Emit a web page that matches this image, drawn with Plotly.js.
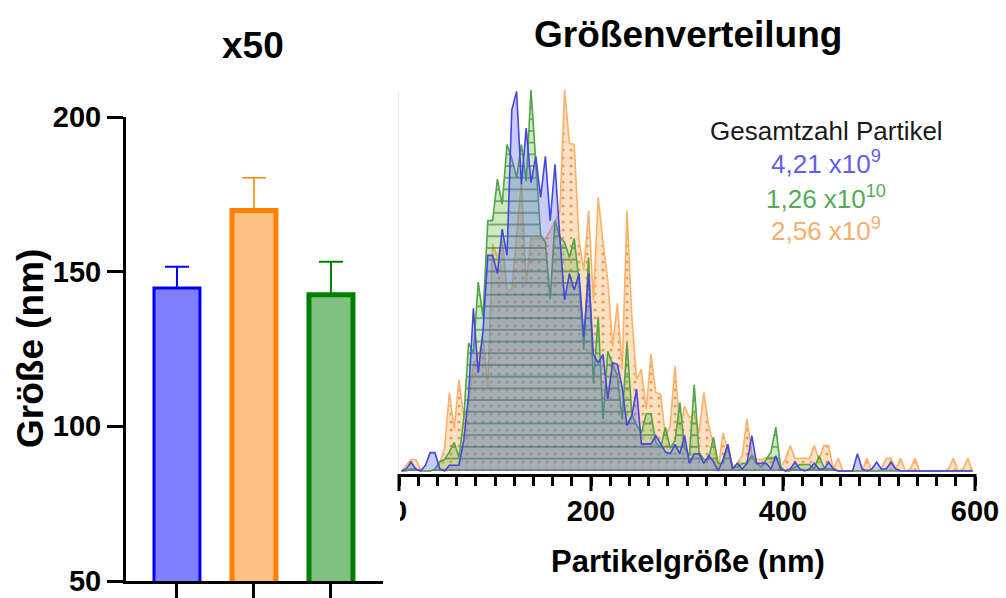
<!DOCTYPE html>
<html>
<head>
<meta charset="utf-8">
<script src="https://cdn.plot.ly/plotly-3.0.1.min.js"></script>
<style>html,body{margin:0;padding:0;background:#fff;}#chart{width:1006px;height:598px;}</style>
</head>
<body>
<div id="chart"></div>
<script>
// ---- Left panel: mean particle size (x50) ----
var barGroups = [0, 1, 2];
var barMeans = [144.7, 169.8, 142.5];
var barErrUp = [6.9, 10.6, 10.7];
var sizeTicks = [50, 100, 150, 200];

// ---- Right panel: size distribution (5 nm bins, first bin centre 2.5 nm) ----
var binStart = 2.5;
var binWidth = 5;
var distTicks = [0, 200, 400, 600];
var distBlue = [0,0.5,2.3,0.5,0,1.5,4.8,4.8,0.5,0,1.5,1.5,1.5,8,20,42.7,25.8,36.7,56.6,56.6,
  51.8,63.5,56.6,94.8,99.6,75.3,90,75.7,82.6,71.8,82.6,65.7,80.5,61.4,44.9,51.8,47.5,51.8,35.3,51.8,
  30.6,28.4,30.6,18.9,28.4,28,21.9,11.9,14.5,21.5,7.1,7.1,7.1,9.3,7.1,5,4.5,7,4.5,9.3,
  2,4.5,4.5,2,4,2.5,0,3,7,0.5,2,0.5,2,9.3,2,2,2,0.5,4,0.5,
  0,0.5,2.3,0.5,0,0.5,2,0.5,0.5,2.3,0.5,0,0,0,0,4.5,0.5,0,0.5,2.3,
  0.5,0.5,2.3,0.5,0,0,0,0,0,0,0,0,0,0,0,0,0,0,0,0];
var distGreen = [0,0,0.5,0.5,0,0,0,0.5,2.5,3,5,7.5,3.5,14,33.6,31,49.6,40.5,65.7,65.7,
  76.6,70,85.7,82,77,85.7,76,100,81.7,62,60,45,65.7,61.4,60,56,61,50,31.8,56,
  23,40.5,13.6,31.4,28,25,13.6,33.6,15,12,10,15,15,7.5,6,11.5,6,8,18,6,
  4,22.6,5,3,3,8.9,2,2,7,1,1,2,2,4,2,1,3,5,11.5,1,
  0,0,1,1.7,1.7,1.7,0.5,4,1,0.5,0.5,0,0,0,0,0,0,0,0,0,
  0,0,0,0,0,0,0,0,0,0,0,0,0,0,0,0,0,0,0,0];
var distOrange = [0,1.5,3,3,0.5,0,0,0.5,2,6,20.6,11,24,14,17,28,30,35,22,59.6,
  56,60.5,47.5,47.5,62,76,49,61,61,61,61,63,65.7,68,100,86,85.7,60.5,52.7,68.3,
  44.9,71.8,60,50,32.7,44,26.7,68.3,40.5,24,26.7,16.2,30.6,20.6,20.2,9,12,27.5,11,17,
  14,15,10,20.6,12,7,0.5,10,5.4,1,2,4,13.6,4.5,3,3,3.5,3.6,3.6,1,
  3,6.7,3.3,3.3,3.3,3.3,6.7,3,6.7,6.7,0.5,3.3,0,0,0,0,0,3.3,0,0,
  0.5,3.3,3.3,0.5,3.3,0,0.5,3.3,0,0,0,0,0,0,0.5,3.3,0,0.5,3.3,0];

var totalLabels = ['4,21 x10<sup>9</sup>', '1,26 x10<sup>10</sup>', '2,56 x10<sup>9</sup>'];

// ---- styles ----
var W = 1006, H = 598;
function px(x){ return x / W; }
function py(y){ return 1 - y / H; }
var FONT = 'Liberation Sans, Arial, Helvetica, sans-serif';
var barFill = ['#8080ff', '#ffc080', '#80c080'];
var barLine = ['#0000ff', '#ff8000', '#008000'];
var barLineW = [3, 5, 5];
var barWidth = [0.597, 0.571, 0.571];
var errThick = [2, 1.5, 2];

var traces = [];
for (var i = 0; i < barGroups.length; i++) {
  traces.push({
    type: 'bar', x: [barGroups[i]], y: [barMeans[i]], base: 0,
    width: [barWidth[i]], xaxis: 'x', yaxis: 'y',
    marker: {color: barFill[i], line: {color: barLine[i], width: barLineW[i]}},
    error_y: {type: 'data', symmetric: false, array: [barErrUp[i]], arrayminus: [0],
      color: barLine[i], thickness: errThick[i], width: 12},
    hoverinfo: 'skip'
  });
}

traces.push({
  type: 'scatter', mode: 'lines', x0: binStart, dx: binWidth, y: distOrange,
  xaxis: 'x2', yaxis: 'y2', fill: 'tozeroy',
  fillcolor: 'rgba(250,175,100,0.40)',
  fillpattern: {shape: '.', fillmode: 'replace', bgcolor: 'rgba(250,175,100,0.40)',
    fgcolor: 'rgba(215,130,60,0.7)', size: 8, solidity: 0.12},
  line: {color: 'rgb(250,178,105)', width: 1.6}, hoverinfo: 'skip'
});
traces.push({
  type: 'scatter', mode: 'lines', x0: binStart, dx: binWidth, y: distGreen,
  xaxis: 'x2', yaxis: 'y2', fill: 'tozeroy',
  fillcolor: 'rgba(110,190,70,0.34)',
  fillpattern: {shape: '-', fillmode: 'replace', bgcolor: 'rgba(110,190,70,0.34)',
    fgcolor: 'rgba(40,100,40,0.7)', size: 11.7, solidity: 0.12},
  line: {color: 'rgb(80,165,70)', width: 1.6}, hoverinfo: 'skip'
});
traces.push({
  type: 'scatter', mode: 'lines', x0: binStart, dx: binWidth, y: distBlue,
  xaxis: 'x2', yaxis: 'y2', fill: 'tozeroy',
  fillcolor: 'rgba(85,95,240,0.32)',
  line: {color: 'rgb(70,70,225)', width: 1.6}, hoverinfo: 'skip'
});

var bold = {family: FONT, size: 29, color: '#000', weight: 700};

// axis geometry of the distribution panel
var x2Domain = [px(399), px(975)];
var x2Range = [0, 600];
function x2ToPaper(v) {
  return x2Domain[0] + (v - x2Range[0]) / (x2Range[1] - x2Range[0]) * (x2Domain[1] - x2Domain[0]);
}
// longer major ticks (axis decoration) at the major tick values
var majorTickShapes = distTicks.map(function (v) {
  return {type: 'line', xref: 'paper', yref: 'paper', layer: 'above',
    x0: x2ToPaper(v), x1: x2ToPaper(v), y0: py(474), y1: py(491),
    line: {color: '#000', width: 3}};
});

var layout = {
  width: W, height: H,
  margin: {l: 0, r: 0, t: 0, b: 0},
  paper_bgcolor: '#fff', plot_bgcolor: 'rgba(0,0,0,0)',
  showlegend: false,
  font: {family: FONT, color: '#000'},
  xaxis: {
    domain: [px(126), px(383)], range: [-0.662, 2.676],
    tickvals: barGroups, showticklabels: false,
    ticks: 'outside', ticklen: 16, tickwidth: 3, tickcolor: '#000',
    showline: true, linewidth: 3, linecolor: '#000',
    showgrid: false, zeroline: false, fixedrange: true
  },
  yaxis: {
    domain: [1 - 581 / H, 1 - 117 / H], range: [50, 200],
    tickvals: sizeTicks,
    ticks: 'outside', ticklen: 16, tickwidth: 3, tickcolor: '#000',
    tickfont: bold,
    showline: true, linewidth: 3, linecolor: '#000',
    showgrid: false, zeroline: false, fixedrange: true
  },
  xaxis2: {
    anchor: 'y2', domain: x2Domain, range: x2Range,
    tickvals: distTicks,
    ticks: 'outside', ticklen: 9, tickwidth: 3, tickcolor: '#000',
    minor: {dtick: 20, ticks: 'outside', ticklen: 9, tickwidth: 3, tickcolor: '#000'},
    tickfont: bold,
    showline: true, linewidth: 3, linecolor: '#000',
    showgrid: false, zeroline: false, fixedrange: true
  },
  yaxis2: {
    anchor: 'x2', domain: [1 - 474 / H, 1 - 90 / H], range: [-0.8, 100],
    showticklabels: false, ticks: '',
    showline: true, linewidth: 1, linecolor: '#eeeeee',
    showgrid: false, zeroline: false, fixedrange: true
  },
  shapes: majorTickShapes.concat([
    {type: 'rect', xref: 'paper', yref: 'paper', layer: 'above',
     x0: px(384), x1: px(400), y0: py(530), y1: py(493),
     fillcolor: '#fff', line: {width: 0}}
  ]),
  annotations: [
    {text: 'x50', xref: 'paper', yref: 'paper', x: px(253), y: py(46),
     xanchor: 'center', yanchor: 'middle', showarrow: false,
     font: {family: FONT, size: 37, color: '#000', weight: 700}},
    {text: 'Größenverteilung', xref: 'paper', yref: 'paper', x: px(688), y: py(35),
     xanchor: 'center', yanchor: 'middle', showarrow: false,
     font: {family: FONT, size: 37, color: '#000', weight: 700}},
    {text: 'Größe (nm)', xref: 'paper', yref: 'paper', x: px(30), y: py(349),
     xanchor: 'center', yanchor: 'middle', showarrow: false, textangle: -90,
     font: {family: FONT, size: 37, color: '#000', weight: 700}},
    {text: 'Partikelgröße (nm)', xref: 'paper', yref: 'paper', x: px(688), y: py(561),
     xanchor: 'center', yanchor: 'middle', showarrow: false,
     font: {family: FONT, size: 31, color: '#000', weight: 700}},
    {text: 'Gesamtzahl Partikel', xref: 'paper', yref: 'paper', x: px(826), y: py(131),
     xanchor: 'center', yanchor: 'middle', showarrow: false,
     font: {family: FONT, size: 26, color: '#1a1a1a'}},
    {text: totalLabels[0], xref: 'paper', yref: 'paper', x: px(826), y: py(163),
     xanchor: 'center', yanchor: 'middle', showarrow: false,
     font: {family: FONT, size: 26, color: 'rgb(95,95,230)'}},
    {text: totalLabels[1], xref: 'paper', yref: 'paper', x: px(826), y: py(197),
     xanchor: 'center', yanchor: 'middle', showarrow: false,
     font: {family: FONT, size: 26, color: 'rgb(85,170,85)'}},
    {text: totalLabels[2], xref: 'paper', yref: 'paper', x: px(826), y: py(229),
     xanchor: 'center', yanchor: 'middle', showarrow: false,
     font: {family: FONT, size: 26, color: 'rgb(245,175,110)'}}
  ]
};

Plotly.newPlot('chart', traces, layout, {displayModeBar: false, staticPlot: true});
</script>
</body>
</html>
